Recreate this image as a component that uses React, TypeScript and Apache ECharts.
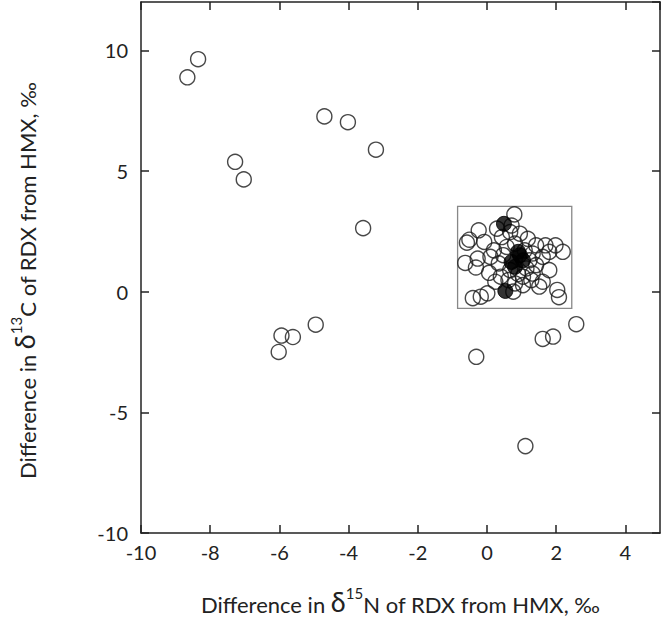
import React, { useEffect, useRef } from "react";
import * as echarts from "echarts";

// Open (hollow) circles: [δ15N difference, δ13C difference]
const openOuter: [number, number][] = [
  [-8.35, 9.63], [-8.66, 8.88], [-4.7, 7.26], [-4.02, 7.02], [-3.21, 5.88],
  [-7.28, 5.38], [-7.03, 4.65], [-3.58, 2.63], [-4.95, -1.37], [-5.94, -1.82],
  [-5.61, -1.88], [-6.02, -2.5], [-0.31, -2.7], [1.11, -6.4], [1.61, -1.96],
  [1.91, -1.86], [2.58, -1.35],
];

const openCluster: [number, number][] = [
  [0.79, 3.2], [-0.24, 2.54], [-0.51, 2.15], [-0.58, 2.03], [-0.08, 2.06],
  [-0.63, 1.19], [-0.27, 1.37], [0.1, 1.44], [-0.32, 1.0], [0.06, 0.78],
  [0.34, 1.17], [-0.41, -0.27], [-0.18, -0.21], [0.01, -0.07], [0.24, 0.41],
  [0.4, 0.62], [0.81, 0.34], [1.04, 0.27], [1.28, 0.48], [1.61, 0.41],
  [2.03, 0.07], [2.08, -0.23], [1.51, 0.21], [0.76, 0.0], [0.9, 0.73],
  [0.67, 0.89], [1.14, 0.96], [1.42, 1.1], [1.61, 1.44], [1.8, 1.65],
  [1.98, 1.92], [1.69, 1.92], [1.42, 1.92], [2.19, 1.65], [1.18, 2.19],
  [0.95, 2.4], [0.67, 2.47], [0.43, 2.26], [0.57, 1.85], [0.81, 1.99],
  [1.09, 1.71], [1.32, 1.58], [0.47, 1.51], [0.2, 1.71], [1.23, 1.3],
  [1.32, 0.75], [1.04, 0.62], [0.62, 0.48], [1.8, 0.89], [0.29, 2.61],
  [0.71, 2.74],
];

// Filled circles
const filledPoints: [number, number][] = [
  [0.49, 2.81], [0.9, 1.65], [0.71, 1.23], [1.04, 1.3], [0.95, 1.51],
  [0.81, 1.03], [0.53, 0.03],
];

// Grey box corners
const boxCorners: [number, number][] = [[-0.85, -0.69], [2.45, 3.53]];

const xTickInterval = 2;
const yTickInterval = 5;

const FONT = "Lato";

export default function App() {
  const ref = useRef<HTMLDivElement>(null);

  useEffect(() => {
    if (!ref.current) return;
    const chart = echarts.init(ref.current, undefined, { renderer: "svg" });

    const nameRich = {
      t: { fontSize: 22, fontFamily: FONT, color: "#222", lineHeight: 30, verticalAlign: "bottom" },
      d: { fontSize: 27, fontFamily: FONT, color: "#222", lineHeight: 30, verticalAlign: "bottom" },
      s: { fontSize: 15, fontFamily: FONT, color: "#222", lineHeight: 17, verticalAlign: "top" },
    };

    const axisLineStyle = { onZero: false, lineStyle: { color: "#222", width: 1.5 } };
    const tickStyle = { inside: true, length: 8, lineStyle: { color: "#222", width: 1.5 } };

    const option = {
      animation: false,
      grid: { left: 128, right: 3, top: 2, bottom: 87 },
      xAxis: [
        {
          type: "value",
          min: -10,
          max: 5,
          interval: xTickInterval,
          position: "bottom",
          axisLine: axisLineStyle,
          axisTick: tickStyle,
          splitLine: { show: false },
          axisLabel: {
            showMaxLabel: false,
            fontSize: 20,
            fontFamily: FONT,
            color: "#222",
            margin: 9,
          },
          name: "{t|Difference in }{d|δ}{s|15}{t|N of RDX from HMX, ‰}",
          nameLocation: "middle",
          nameGap: 52,
          nameTextStyle: { rich: nameRich },
        },
        {
          type: "value",
          min: -10,
          max: 5,
          interval: xTickInterval,
          position: "top",
          axisLine: axisLineStyle,
          axisTick: tickStyle,
          splitLine: { show: false },
          axisLabel: { show: false },
        },
      ],
      yAxis: [
        {
          type: "value",
          min: -10,
          max: 12,
          interval: yTickInterval,
          position: "left",
          axisLine: axisLineStyle,
          axisTick: tickStyle,
          splitLine: { show: false },
          axisLabel: {
            showMaxLabel: false,
            fontSize: 20,
            fontFamily: FONT,
            color: "#222",
            margin: 13,
          },
          name: "{t|Difference in }{d|δ}{s|13}{t|C of RDX from HMX, ‰}",
          nameLocation: "middle",
          nameRotate: 90,
          nameGap: 103,
          nameTextStyle: { rich: nameRich, padding: [0, 26, 0, 0] },
        },
        {
          type: "value",
          min: -10,
          max: 12,
          interval: yTickInterval,
          position: "right",
          axisLine: axisLineStyle,
          axisTick: tickStyle,
          splitLine: { show: false },
          axisLabel: { show: false },
        },
      ],
      series: [
        {
          type: "scatter",
          xAxisIndex: 0,
          yAxisIndex: 0,
          symbol: "circle",
          symbolSize: 15,
          data: [...openOuter, ...openCluster],
          itemStyle: { color: "rgba(255,255,255,0)", borderColor: "#1a1a1a", borderWidth: 1.4 },
          markArea: {
            silent: true,
            itemStyle: { color: "rgba(0,0,0,0)", borderColor: "#888", borderWidth: 1.3 },
            data: [[{ coord: boxCorners[0] }, { coord: boxCorners[1] }]],
          },
          z: 2,
        },
        {
          type: "scatter",
          xAxisIndex: 0,
          yAxisIndex: 0,
          symbol: "circle",
          symbolSize: 15,
          data: filledPoints,
          itemStyle: { color: "#000", borderColor: "#000", borderWidth: 1 },
          z: 3,
        },
      ],
    };

    chart.setOption(option as any);
    return () => chart.dispose();
  }, []);

  return (
    <div
      ref={ref}
      style={{ position: "fixed", left: 0, top: 0, width: 663, height: 620, background: "#fff" }}
    />
  );
}
